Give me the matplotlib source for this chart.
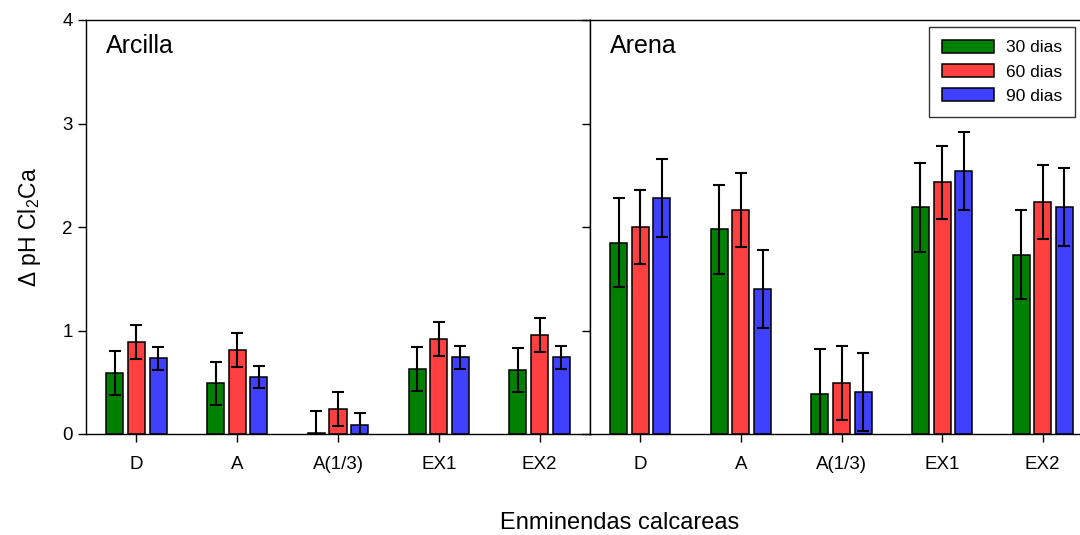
import matplotlib
matplotlib.use('Agg')
import matplotlib.pyplot as plt
import numpy as np

plt.rcParams['font.family'] = ['Liberation Sans', 'DejaVu Sans']
plt.rcParams['mathtext.default'] = 'regular'

C_GREEN = '#008000'
C_RED = '#FF4040'
C_BLUE = '#4040FF'

categories = ['D', 'A', 'A(1/3)', 'EX1', 'EX2']
series = ['30 dias', '60 dias', '90 dias']

# Arcilla
arcilla_30 = [0.59, 0.49, 0.01, 0.63, 0.62]
arcilla_60 = [0.89, 0.81, 0.245, 0.92, 0.96]
arcilla_90 = [0.73, 0.55, 0.09, 0.74, 0.74]
arcilla_err = [0.21, 0.165, 0.11]

# Arena
arena_30 = [1.85, 1.98, 0.39, 2.19, 1.73]
arena_60 = [2.00, 2.16, 0.49, 2.43, 2.245]
arena_90 = [2.28, 1.40, 0.41, 2.54, 2.19]
arena_err = [0.43, 0.357, 0.377]

colors = [C_GREEN, C_RED, C_BLUE]

W, H = 1080, 535
fig = plt.figure(figsize=(W / 100, H / 100), dpi=100)
ax1 = fig.add_axes([86 / W, (H - 434) / H, 504 / W, 414 / H])
ax2 = fig.add_axes([590 / W, (H - 434) / H, 503 / W, 414 / H])

x = np.arange(len(categories))
width = 0.17
step = 0.215


def draw_panel(ax, data, errs, title):
    for i, (vals, err, col, lab) in enumerate(zip(data, errs, colors, series)):
        pos = x + (i - 1) * step
        ax.bar(pos, vals, width, color=col, edgecolor='black', linewidth=1.1,
               label=lab, zorder=2)
        ax.errorbar(pos, vals, yerr=err, fmt='none', ecolor='black',
                    elinewidth=1.5, capsize=4.3, capthick=1.5, zorder=3)
    ax.set_xlim(-0.5, 4.5)
    ax.set_ylim(0, 4)
    ax.set_yticks([0, 1, 2, 3, 4])
    ax.set_xticks(x)
    ax.set_xticklabels(categories)
    ax.tick_params(axis='both', direction='out', length=6, width=1, labelsize=13.5)
    ax.tick_params(axis='x', pad=10)
    for s in ax.spines.values():
        s.set_linewidth(1.0)
    ax.text(0.04, 0.965, title, transform=ax.transAxes, fontsize=18,
            ha='left', va='top')


draw_panel(ax1, [arcilla_30, arcilla_60, arcilla_90], arcilla_err, 'Arcilla')
draw_panel(ax2, [arena_30, arena_60, arena_90], arena_err, 'Arena')
ax2.set_yticklabels([])
ax2.spines['right'].set_visible(False)

ax1.set_ylabel(r'$\Delta$ pH Cl$_2$Ca', fontsize=16.5, labelpad=14)
fig.text(620 / W, 1 - 523 / H, 'Enminendas calcareas', fontsize=17,
         ha='center', va='center')

ax2.legend(loc='upper right', bbox_to_anchor=(1075 / W, 1 - 27 / H),
           bbox_transform=fig.transFigure, fontsize=12.5, frameon=True,
           fancybox=False, edgecolor='black', handlelength=3.0,
           handleheight=0.75, borderaxespad=0, labelspacing=0.5,
           borderpad=0.75, handletextpad=0.65)

fig.savefig('out.png', dpi=100)
